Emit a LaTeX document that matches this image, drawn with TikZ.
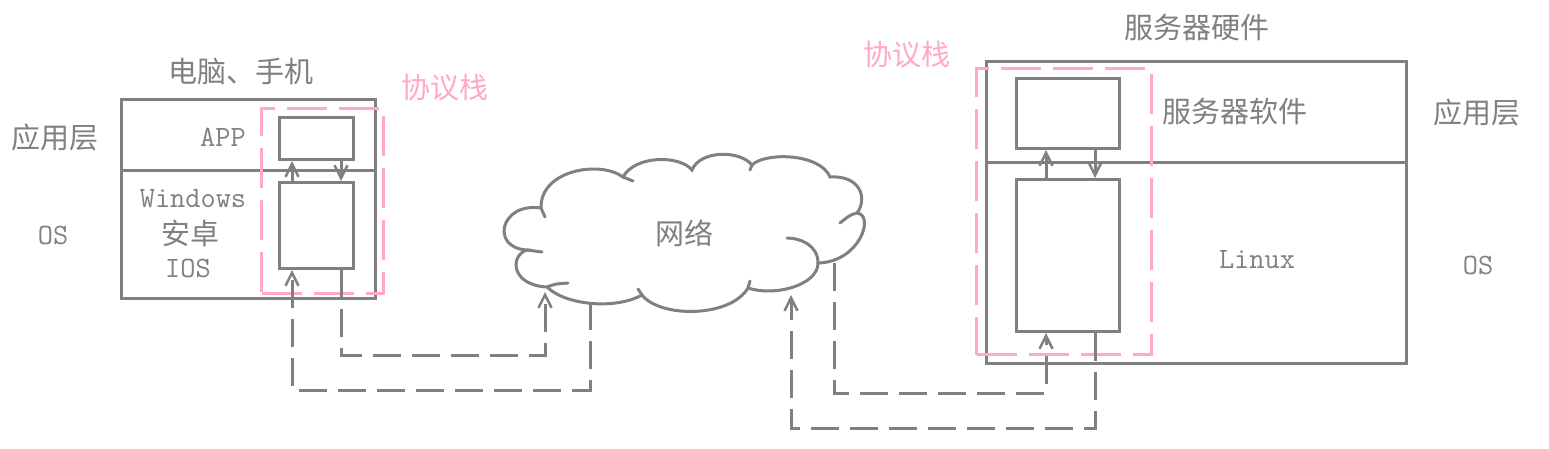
\documentclass[tikz,border=0pt]{standalone}
\usepackage{fontspec}
\setmainfont{Liberation Serif}
\newfontfamily\cjk{Noto Sans CJK SC}
\usetikzlibrary{arrows.meta}
\definecolor{ln}{HTML}{808080}
\definecolor{pk}{HTML}{FFA8C8}
\tikzset{
  box/.style={draw=ln,line width=3pt,inner sep=0pt,anchor=north west},
  pinkbox/.style={draw=pk,line width=3pt,dash pattern=on 40pt off 12pt,inner sep=0pt,anchor=north west},
  cn/.style={text=ln,font=\cjk\fontsize{29}{32}\selectfont,inner sep=0pt},
  pn/.style={text=pk,font=\cjk\fontsize{29}{32}\selectfont,inner sep=0pt},
  lt/.style={text=ln,font=\ttfamily\fontsize{29.5}{32}\selectfont,inner sep=0pt},
  tip/.style={-{Straight Barb[length=13pt,width=13pt,line width=2.5pt]}},
  arr/.style={draw=ln,line width=3pt,tip},
  dashline/.style={draw=ln,line width=3pt,dash pattern=on 28pt off 11pt},
  darr/.style={dashline,tip},
  cloudline/.style={draw=ln,line width=3pt,line cap=round},
}
\begin{document}
\begin{tikzpicture}[x=1pt,y=-1pt]
\useasboundingbox[fill=white] (0,0) rectangle (1549,448);

% ---------- left device ----------
\node[box,minimum width=254pt,minimum height=199pt] (dev) at (120,98) {};
\coordinate (ldivL) at (120,170);
\coordinate (ldivR) at (374,170);
\draw[draw=ln,line width=3pt] (ldivL) -- (ldivR);
\node[box,minimum width=74pt,minimum height=42pt] (lapp) at (278,116) {};
\node[box,minimum width=74pt,minimum height=86pt] (lstk) at (278,181) {};
\node[pinkbox,minimum width=122pt,minimum height=185pt] (lpk) at (260,107) {};

\node[cn] (t1) at (241,72) {电脑、手机};
\node[cn] (t2) at (55,137) {应用层};
\node[lt] (t3) at (223,137) {APP};
\node[lt] (t4) at (53,235) {OS};
\node[lt] (t5) at (193,199) {Windows};
\node[cn] (t6) at (190,233) {安卓};
\node[lt] (t7) at (188,268) {IOS};
\node[pn] (t8) at (445,88) {协议栈};

\draw[arr] ([xshift=14pt]lstk.north west) -- ([xshift=14pt]lapp.south west);
\draw[arr] ([xshift=-14pt]lapp.south east) -- ([xshift=-14pt]lstk.north east);

% ---------- cloud ----------
\draw[cloudline] (541,208)
  .. controls (500,202) and (490,248) .. (527,250)
  .. controls (510,255) and (510,285) .. (547,287)
  .. controls (565,305) and (615,310) .. (642,295)
  .. controls (660,318) and (730,318) .. (748,288)
  .. controls (775,297) and (818,285) .. (818,263)
  .. controls (860,262) and (875,215) .. (857,213)
  .. controls (868,198) and (860,175) .. (830,177)
  .. controls (820,153) and (765,152) .. (752,165)
  .. controls (740,150) and (700,150) .. (692,170)
  .. controls (680,155) and (635,155) .. (623,177)
  .. controls (600,160) and (540,170) .. cycle;
% inner strokes of the cloud
\draw[cloudline] (541,208) -- (545,217);
\draw[cloudline] (527,250) -- (542,252);
\draw[cloudline] (547,287) .. controls (555,284) .. (568,283);
\draw[cloudline] (642,295) -- (638,289);
\draw[cloudline] (748,288) -- (750,281);
\draw[cloudline] (818,263) .. controls (818,245) and (800,238) .. (787,238);
\draw[cloudline] (857,213) .. controls (850,215) .. (840,223);
\draw[cloudline] (752,165) -- (750,170);
\draw[cloudline] (623,177) -- (633,181);
\node[cn] (net) at (684,233) {网络};

\coordinate (c1) at (545,292);
\coordinate (c2) at (590,302);
\coordinate (c3) at (791,295);
\coordinate (c4) at (834,263);

% ---------- server ----------
\node[box,minimum width=420pt,minimum height=302pt] (srv) at (985,60) {};
\coordinate (rdivL) at (985,162);
\coordinate (rdivR) at (1405,162);
\draw[draw=ln,line width=3pt] (rdivL) -- (rdivR);
\node[box,minimum width=103pt,minimum height=70pt] (rapp) at (1015,77) {};
\node[box,minimum width=103pt,minimum height=152pt] (rstk) at (1015,178) {};
\node[pinkbox,minimum width=175pt,minimum height=286pt] (rpk) at (975,67) {};

\node[cn] (s1) at (1197,27) {服务器硬件};
\node[cn] (s2) at (1235,111) {服务器软件};
\node[cn] (s3) at (1477,112) {应用层};
\node[lt] (s4) at (1257,260) {Linux};
\node[lt] (s5) at (1478,265) {OS};
\node[pn] (s6) at (907,55) {协议栈};

\draw[arr] ([xshift=31pt]rstk.north west) -- ([xshift=31pt]rapp.south west);
\draw[arr] ([xshift=-26pt]rapp.south east) -- ([xshift=-26pt]rstk.north east);

% ---------- dashed connectors ----------
\draw[darr] ([xshift=-14pt]lstk.south east) |- (545,355) -- (c1);
\draw[darr] (c2) |- (292,390) -- ([xshift=14pt]lstk.south west);
\draw[darr] (c4) |- (1046,393) -- ([xshift=31pt]rstk.south west);
\draw[darr] ([xshift=-26pt]rstk.south east) |- (791,428) -- (c3);
\end{tikzpicture}
\end{document}
